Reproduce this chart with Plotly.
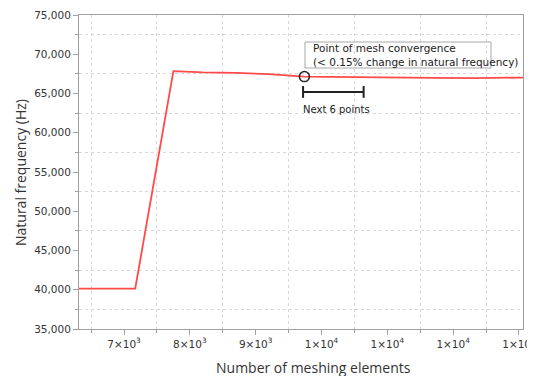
import plotly.graph_objects as go

# Data
mesh_elements = [6200, 7170, 7750, 8200, 8700, 9200, 9740, 10300, 11000, 11700, 12300, 12700, 13200]
natural_freq = [40150, 40150, 67850, 67680, 67620, 67480, 67150, 67080, 67050, 67000, 66950, 67000, 67050]

convergence_x = [9740]
convergence_y = [67150]

bracket_x = [9720, 10640]
bracket_y = 65200
bracket_half = 750

x_tick_vals = [7000, 8000, 9000, 10000, 11000, 12000, 13000]
x_tick_text = ["7×10<sup>3</sup>", "8×10<sup>3</sup>", "9×10<sup>3</sup>", "1×10<sup>4</sup>",
               "1×10<sup>4</sup>", "1×10<sup>4</sup>", "1×10<sup>4</sup>"]
x_minor_vals = [6500, 7500, 8500, 9500, 10500, 11500, 12500]
y_minor_vals = [37500, 42500, 47500, 52500, 57500, 62500, 67500, 72500]

FONT = "DejaVu Sans"
TITLE_FONT = "Open Sans"
AXIS_COLOR = "#a0a0a0"
GRID_COLOR = "#d8d8d8"

# plot area in page pixels (page body has an 8px margin)
PW, PH = 444, 314

fig = go.Figure()

fig.add_trace(go.Scatter(
    x=mesh_elements, y=natural_freq, mode="lines",
    line=dict(color="#ff4a4a", width=1.8), hoverinfo="skip", showlegend=False,
))

# bracket "Next 6 points"
fig.add_trace(go.Scatter(
    x=[bracket_x[0], bracket_x[1], None, bracket_x[0], bracket_x[0], None, bracket_x[1], bracket_x[1]],
    y=[bracket_y, bracket_y, None, bracket_y - bracket_half, bracket_y + bracket_half, None,
       bracket_y - bracket_half, bracket_y + bracket_half],
    mode="lines", line=dict(color="#222222", width=2), showlegend=False, hoverinfo="skip",
))

fig.add_trace(go.Scatter(
    x=convergence_x, y=convergence_y, mode="markers",
    marker=dict(symbol="circle-open", size=10, color="#222222", line=dict(width=1.5)),
    showlegend=False, hoverinfo="skip",
))

# annotation box
fig.add_shape(type="rect", xref="paper", yref="paper",
              x0=(305 - 79) / PW, x1=(491 - 79) / PW,
              y0=(329 - 68) / PH, y1=(329 - 42) / PH,
              line=dict(color="#a8a8a8", width=1), fillcolor="rgba(255,255,255,0)", layer="above")

fig.add_annotation(
    xref="paper", yref="paper", x=(311 - 79) / PW, y=(329 - 55) / PH,
    xanchor="left", yanchor="middle", align="left", showarrow=False,
    text="Point of mesh convergence<br>(< 0.15% change in natural frequency)",
    font=dict(family=FONT, size=10.5, color="#222222"),
)
fig.add_annotation(
    x=bracket_x[0], y=bracket_y, xanchor="left", yanchor="middle", showarrow=False,
    xshift=-2, yshift=-18,
    text="Next 6 points", font=dict(family=FONT, size=10, color="#222222"),
)

# axis titles
fig.add_annotation(
    xref="paper", yref="paper", x=(313 - 79) / PW, y=-(367 - 329) / PH,
    xanchor="center", yanchor="middle", showarrow=False,
    text="Number of meshing elements", font=dict(family=TITLE_FONT, size=14, color="#333333"),
)
fig.add_annotation(
    xref="paper", yref="paper", x=(20 - 79) / PW, y=(329 - 173) / PH,
    xanchor="center", yanchor="middle", showarrow=False, textangle=-90,
    text="Natural frequency (Hz)", font=dict(family=TITLE_FONT, size=14, color="#333333"),
)

fig.update_layout(
    width=527, height=368,
    margin=dict(l=71, r=12, t=7, b=47, autoexpand=False),
    paper_bgcolor="white", plot_bgcolor="white",
    font=dict(family=FONT, size=10.5, color="#333333"),
    xaxis=dict(
        range=[6316, 13061], tickmode="array", tickvals=x_tick_vals, ticktext=x_tick_text,
        automargin=False, ticklabeloverflow="allow",
        showgrid=False, zeroline=False, showline=True, mirror=True,
        linecolor=AXIS_COLOR, linewidth=1, ticks="outside", ticklen=5, tickcolor=AXIS_COLOR,
        tickfont=dict(family=FONT, size=10.5, color="#333333"),
        minor=dict(tickmode="array", tickvals=x_minor_vals, ticks="outside", ticklen=3, tickcolor=AXIS_COLOR,
                   showgrid=True, gridcolor=GRID_COLOR, griddash="dot", gridwidth=1),
    ),
    yaxis=dict(
        range=[35000, 75000], tickmode="linear", tick0=35000, dtick=5000, tickformat=",d",
        automargin=False, ticklabeloverflow="allow",
        showgrid=False, zeroline=False, showline=True, mirror=True,
        linecolor=AXIS_COLOR, linewidth=1, ticks="outside", ticklen=5, tickcolor=AXIS_COLOR,
        tickfont=dict(family=FONT, size=10.5, color="#333333"),
        minor=dict(tickmode="array", tickvals=y_minor_vals, ticks="outside", ticklen=3, tickcolor=AXIS_COLOR,
                   showgrid=True, gridcolor=GRID_COLOR, griddash="dot", gridwidth=1),
    ),
)

fig.write_html("out.html")
